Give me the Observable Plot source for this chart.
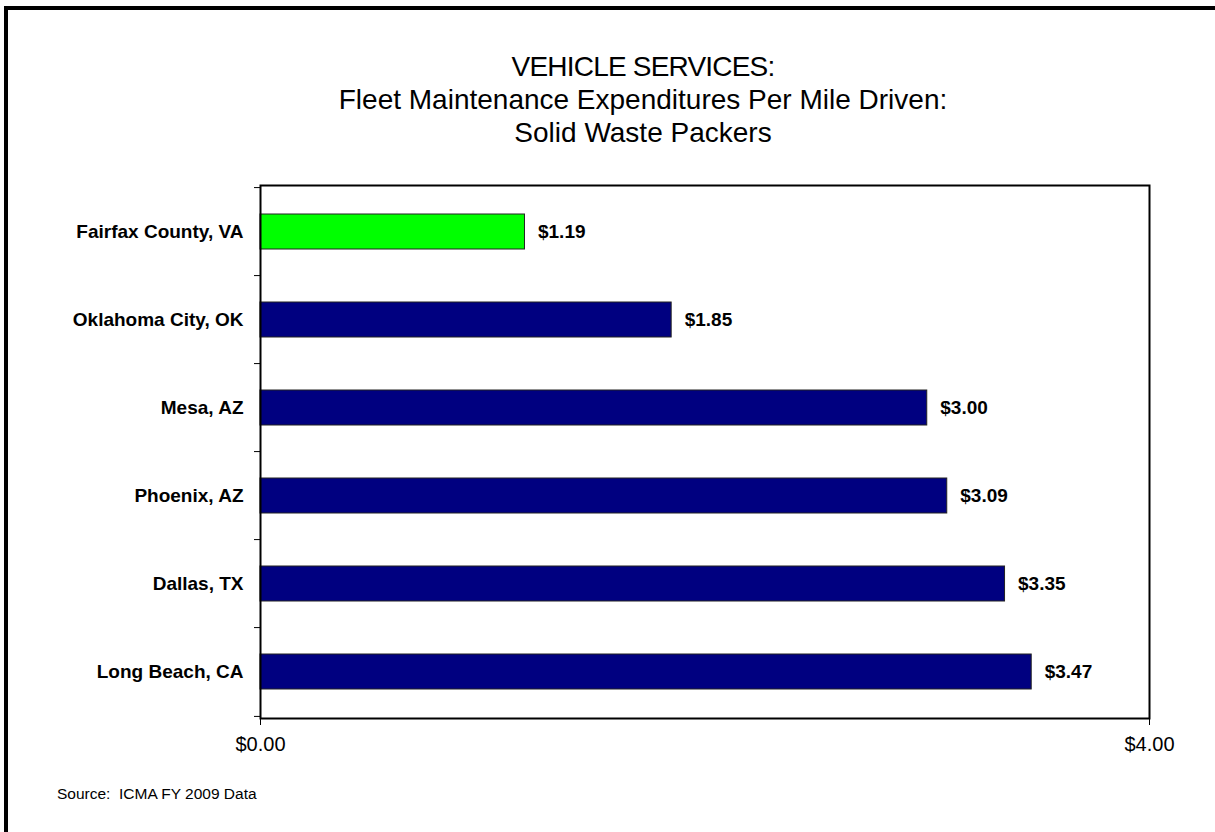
<!DOCTYPE html>
<html>
<head>
<meta charset="utf-8">
<script src="https://cdn.jsdelivr.net/npm/d3@7"></script>
<script src="https://cdn.jsdelivr.net/npm/@observablehq/plot@0.6"></script>
<style>
  html, body { margin: 0; padding: 0; background: #fff; width: 1215px; height: 832px; overflow: hidden; }
  body { font-family: "Liberation Sans", Arial, sans-serif; position: relative; }
  #frame { position: absolute; left: 4px; top: 6px; width: 1400px; height: 1000px; border: 4px solid #000; }
  #title { position: absolute; left: 243px; width: 800px; top: 50px; text-align: center; font-size: 28px; line-height: 33px; color: #000; }
  #title .l1 { letter-spacing: -0.8px; }
  #chart { position: absolute; left: 0; top: 170px; }
  #source { position: absolute; left: 57px; top: 785px; font-size: 15.5px; line-height: 17px; color: #000; }
</style>
</head>
<body>
<div id="frame"></div>
<div id="title"><span class="l1">VEHICLE SERVICES:</span><br>Fleet Maintenance Expenditures Per Mile Driven:<br>Solid Waste Packers</div>
<div id="chart"></div>
<div id="source">Source:&nbsp; ICMA FY 2009 Data</div>
<script>
const cities = ["Fairfax County, VA", "Oklahoma City, OK", "Mesa, AZ", "Phoenix, AZ", "Dallas, TX", "Long Beach, CA"];
const costs = [1.19, 1.85, 3.00, 3.09, 3.35, 3.47];
const highlight = "Fairfax County, VA";
const xTicks = [0, 4];

const data = cities.map((c, i) => ({city: c, cost: costs[i]}));
const fmt = d3.format("$.2f");
const step = 533 / cities.length;

const chart = Plot.plot({
  width: 1215,
  height: 600,
  marginLeft: 260,
  marginRight: 66,
  marginTop: 15,
  marginBottom: 52,
  style: {fontFamily: "'Liberation Sans', Arial, sans-serif", background: "transparent", color: "#000"},
  x: {domain: [0, 4], ticks: xTicks, tickFormat: fmt},
  y: {domain: cities, paddingInner: 0.6, paddingOuter: 0.3},
  marks: [
    Plot.barX(data, {x: "cost", y: "city", fill: d => d.city === highlight ? "#00ff00" : "#000080", stroke: "#222", strokeWidth: 1}),
    Plot.frame({stroke: "#000", strokeWidth: 2}),
    Plot.axisX({ticks: xTicks, tickFormat: fmt, tickSize: 7, tickPadding: 11, fontSize: 20, label: null, stroke: "#000"}),
    Plot.axisY({tickSize: 0, tickPadding: 17, fontSize: 19, fontWeight: "bold", label: null}),
    Plot.axisY({tickSize: 6, tickFormat: () => "", dy: -step / 2, label: null, stroke: "#000"}),
    Plot.axisY({ticks: [cities[cities.length - 1]], tickSize: 6, tickFormat: () => "", dy: step / 2, label: null, stroke: "#000"}),
    Plot.text(data, {x: "cost", y: "city", text: d => fmt(d.cost), dx: 13, textAnchor: "start", fontSize: 19, fontWeight: "bold", fill: "#000"})
  ]
});
document.getElementById("chart").appendChild(chart);
</script>
</body>
</html>
